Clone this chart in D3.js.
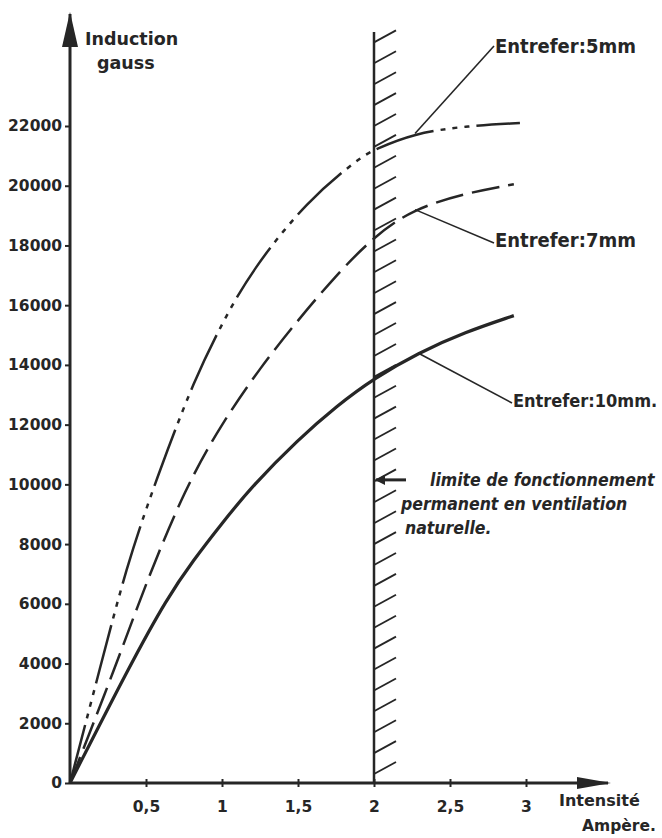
<!DOCTYPE html>
<html>
<head>
<meta charset="utf-8">
<script src="https://cdn.jsdelivr.net/npm/d3@7"></script>
<style>
  body { margin: 0; background: #fff; }
  text { fill: #262626; }
</style>
</head>
<body>
<div id="chart"></div>
<script>
// Values (intensité in A, induction in gauss)
const xTicks = [0.5, 1, 1.5, 2, 2.5, 3];
const xTickLabels = ["0,5", "1", "1,5", "2", "2,5", "3"];
const yTicks = [0, 2000, 4000, 6000, 8000, 10000, 12000, 14000, 16000, 18000, 20000, 22000];

const entrefer5 = [[0, 0], [0.2, 3900], [0.375, 7300], [0.53, 9600], [0.63, 11000], [0.81, 13400],
  [1.0, 15400], [1.2, 17200], [1.56, 19500], [1.91, 20950], [2.0, 21200], [2.26, 21750], [2.6, 22000], [2.96, 22100]];
const entrefer7 = [[0, 0], [0.3, 3900], [0.5, 6700], [0.76, 9900], [1.0, 12050], [1.25, 13900],
  [1.5, 15500], [1.75, 17000], [2.0, 18300], [2.25, 19200], [2.6, 19750], [2.92, 20050]];
const entrefer10 = [[0, 0], [0.4, 4000], [0.64, 6200], [0.81, 7450], [1.0, 8700], [1.2, 9950],
  [1.5, 11500], [1.76, 12650], [2.0, 13550], [2.29, 14400], [2.6, 15100], [2.92, 15650]];

const limitX = 2;          // limite de fonctionnement permanent
const limitTop = 25150;

const width = 662, height = 838;

const svg = d3.select("#chart")
  .append("svg")
  .attr("width", width)
  .attr("height", height)
  .style("font-family", "'DejaVu Sans', sans-serif");

const x = d3.scaleLinear().domain([0, 3]).range([70, 526]);
const y = d3.scaleLinear().domain([0, 22000]).range([783, 126]);

const ink = "#262626";

// axes with arrows
svg.append("defs").append("marker")
  .attr("id", "head")
  .attr("viewBox", "0 0 10 10")
  .attr("refX", 9).attr("refY", 5)
  .attr("markerWidth", 10).attr("markerHeight", 10)
  .attr("markerUnits", "userSpaceOnUse")
  .attr("orient", "auto")
  .append("path").attr("d", "M0,0 L10,5 L0,10 z").attr("fill", ink);

svg.append("line")
  .attr("x1", x(0)).attr("y1", y(0)).attr("x2", x(0)).attr("y2", 14)
  .attr("stroke", ink).attr("stroke-width", 3);
svg.append("path")
  .attr("d", `M${x(0)},12 L${x(0) - 8},47 L${x(0) + 8},47 Z`)
  .attr("fill", ink);

svg.append("line")
  .attr("x1", x(0)).attr("y1", y(0)).attr("x2", 608).attr("y2", y(0))
  .attr("stroke", ink).attr("stroke-width", 3);
svg.append("path")
  .attr("d", `M611,${y(0)} L577,${y(0) - 6} L577,${y(0) + 6} Z`)
  .attr("fill", ink);

// tick marks + labels
const yAxis = svg.append("g")
  .attr("transform", `translate(${x(0)},0)`)
  .call(d3.axisLeft(y).tickValues(yTicks).tickSize(5).tickPadding(3).tickFormat(d3.format("d")));
yAxis.select(".domain").remove();
yAxis.selectAll("line").attr("stroke", ink).attr("stroke-width", 2);
yAxis.selectAll("text")
  .attr("font-size", 15.5).attr("font-weight", "bold")
  .attr("font-family", "'DejaVu Sans', sans-serif")
  .attr("fill", ink);

const xAxis = svg.append("g")
  .attr("transform", `translate(0,${y(0)})`)
  .call(d3.axisBottom(x).tickValues(xTicks).tickSize(4).tickPadding(14)
    .tickFormat((d, i) => xTickLabels[i]));
xAxis.select(".domain").remove();
xAxis.selectAll("line").attr("stroke", ink).attr("stroke-width", 2).attr("y1", -4);
xAxis.selectAll("text")
  .attr("font-size", 15.5).attr("font-weight", "bold")
  .attr("font-family", "'DejaVu Sans', sans-serif")
  .attr("fill", ink);

// axis titles
svg.append("text").attr("x", 85).attr("y", 45)
  .attr("font-size", 17.5).attr("font-weight", "bold").text("Induction");
svg.append("text").attr("x", 97).attr("y", 69)
  .attr("font-size", 17.5).attr("font-weight", "bold").text("gauss");
svg.append("text").attr("x", 559).attr("y", 806)
  .attr("font-size", 16).attr("font-weight", "bold").text("Intensité");
svg.append("text").attr("x", 582).attr("y", 831)
  .attr("font-size", 15.5).attr("font-weight", "bold").text("Ampère.");

// hatched limit
svg.append("line")
  .attr("x1", x(limitX)).attr("y1", y(0)).attr("x2", x(limitX)).attr("y2", y(limitTop))
  .attr("stroke", ink).attr("stroke-width", 2.5);
svg.append("g").selectAll("line")
  .data(d3.range(300, limitTop + 1, 700))
  .join("line")
  .attr("x1", x(limitX)).attr("y1", d => y(d))
  .attr("x2", x(limitX) + 22).attr("y2", d => y(d) - 12)
  .attr("stroke", ink).attr("stroke-width", 1.8);

// curves
const line = d3.line()
  .x(d => x(d[0]))
  .y(d => y(d[1]))
  .curve(d3.curveBasis);

svg.append("path").datum(entrefer5)
  .attr("d", line).attr("fill", "none").attr("stroke", ink)
  .attr("stroke-width", 2.5).attr("stroke-dasharray", "60,7,5,7,5,7,5,7");
svg.append("path").datum(entrefer7)
  .attr("d", line).attr("fill", "none").attr("stroke", ink)
  .attr("stroke-width", 2.5).attr("stroke-dasharray", "28,9");
svg.append("path").datum(entrefer10)
  .attr("d", line).attr("fill", "none").attr("stroke", ink)
  .attr("stroke-width", 3.2);

// curve labels with pointers
const labels = [
  { text: "Entrefer:5mm", at: [2.27, 21750], tx: 494, ty: 53, size: 20, ly: 46 },
  { text: "Entrefer:7mm", at: [2.27, 19200], tx: 494, ty: 247, size: 20, ly: 243 },
  { text: "Entrefer:10mm.", at: [2.29, 14400], tx: 512, ty: 407, size: 18, ly: 403 }
];
labels.forEach(l => {
  svg.append("line")
    .attr("x1", x(l.at[0])).attr("y1", y(l.at[1]))
    .attr("x2", l.tx).attr("y2", l.ly)
    .attr("stroke", ink).attr("stroke-width", 1.6);
  svg.append("text")
    .attr("x", l.tx + 1).attr("y", l.ty)
    .attr("font-size", l.size).attr("font-weight", "bold")
    .attr("font-family", "'DejaVu Sans Condensed', 'DejaVu Sans', sans-serif")
    .text(l.text);
});

// limite annotation
svg.append("line")
  .attr("x1", x(limitX) + 32).attr("y1", y(10150))
  .attr("x2", x(limitX) + 2).attr("y2", y(10150))
  .attr("stroke", ink).attr("stroke-width", 3)
  .attr("marker-end", "url(#head)");
const note = ["limite de fonctionnement", "permanent en ventilation", "naturelle."];
const noteX = [430, 401, 405];
svg.append("g").selectAll("text")
  .data(note)
  .join("text")
  .attr("x", (d, i) => noteX[i])
  .attr("y", (d, i) => 486 + i * 24)
  .attr("font-size", 17.5).attr("font-style", "italic").attr("font-weight", "bold")
  .attr("font-family", "'DejaVu Sans Condensed', 'DejaVu Sans', sans-serif")
  .text(d => d);
</script>
</body>
</html>
